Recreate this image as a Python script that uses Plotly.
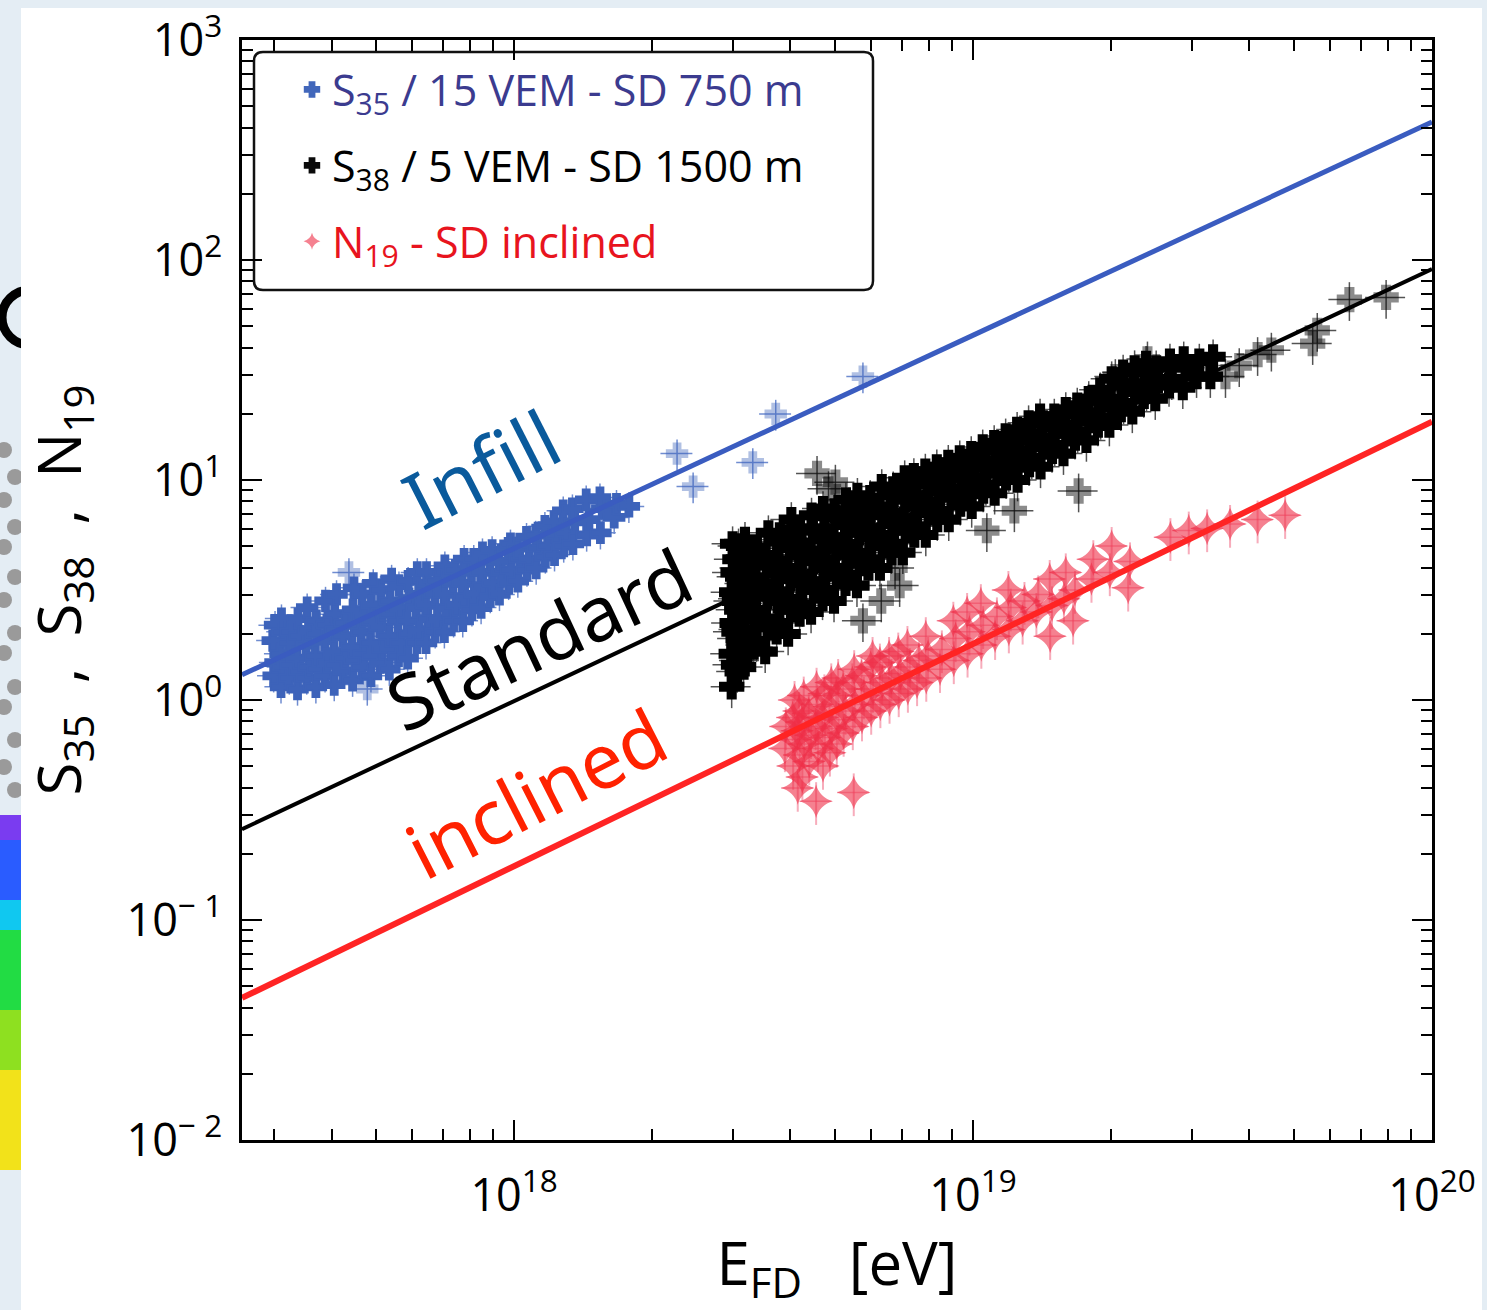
import plotly.graph_objects as go

# ---------------------------------------------------------------------------
# Page geometry (pixels) and helpers to place decorations in paper units
# ---------------------------------------------------------------------------
W, H = 1487, 1310
ML, MR, MT, MB = 242, 55, 40, 170


def px_x(px):
    return (px - ML) / (W - ML - MR)


def px_y(py):
    return (H - MB - py) / (H - MT - MB)


# ---------------------------------------------------------------------------
# Data: lg(E_FD/eV) and lg(S) for the three SD arrays
# ---------------------------------------------------------------------------
# Infill (SD 750 m): S35 / 15 VEM  (last 7 entries are isolated events)
infill_lgE = [
    17.476, 17.480, 17.474, 17.479,
    17.492, 17.497, 17.491, 17.496, 17.493,
    17.510, 17.514, 17.509, 17.513,
    17.528, 17.533, 17.527, 17.532, 17.529,
    17.548, 17.553, 17.547, 17.552, 17.549,
    17.568, 17.572, 17.567, 17.571, 17.569,
    17.588, 17.593, 17.587, 17.592, 17.589,
    17.608, 17.612, 17.607, 17.611, 17.609, 17.613,
    17.628, 17.632, 17.627, 17.631,
    17.648, 17.653, 17.647, 17.652, 17.649, 17.651,
    17.668, 17.673, 17.667, 17.672, 17.669,
    17.688, 17.692, 17.687, 17.691, 17.689, 17.693,
    17.708, 17.713, 17.707, 17.712, 17.709,
    17.728, 17.732, 17.727, 17.731, 17.729, 17.733,
    17.748, 17.753, 17.747, 17.752, 17.749,
    17.768, 17.772, 17.767, 17.771, 17.769,
    17.788, 17.793, 17.787, 17.792, 17.789,
    17.808, 17.812, 17.807, 17.811, 17.809,
    17.828, 17.833, 17.827, 17.832,
    17.848, 17.852, 17.847, 17.851, 17.849,
    17.868, 17.873, 17.867, 17.872,
    17.888, 17.892, 17.887, 17.891,
    17.908, 17.913, 17.907, 17.912,
    17.928, 17.932, 17.927, 17.931,
    17.948, 17.953, 17.947, 17.952,
    17.968, 17.972, 17.967,
    17.988, 17.993, 17.987, 17.992,
    18.008, 18.012, 18.007,
    18.028, 18.033, 18.027,
    18.048, 18.052, 18.047,
    18.068, 18.073, 18.067,
    18.088, 18.092, 18.087,
    18.108, 18.113, 18.107,
    18.128, 18.132, 18.127,
    18.158, 18.163, 18.157,
    18.188, 18.192, 18.187,
    18.218, 18.223,
    18.250,
    17.640, 17.680, 18.355, 18.390, 18.520, 18.570, 18.760,
]
infill_lgS = [
    0.11, 0.17, 0.27, 0.34,
    0.06, 0.15, 0.21, 0.31, 0.37,
    0.10, 0.16, 0.26, 0.31,
    0.05, 0.13, 0.19, 0.29, 0.37,
    0.10, 0.15, 0.25, 0.32, 0.42,
    0.06, 0.14, 0.20, 0.30, 0.36,
    0.11, 0.17, 0.27, 0.34, 0.45,
    0.07, 0.16, 0.22, 0.32, 0.39, 0.48,
    0.13, 0.19, 0.29, 0.35,
    0.09, 0.18, 0.24, 0.34, 0.41, 0.51,
    0.15, 0.21, 0.31, 0.38, 0.48,
    0.11, 0.20, 0.26, 0.36, 0.43, 0.53,
    0.17, 0.23, 0.33, 0.40, 0.50,
    0.14, 0.23, 0.29, 0.39, 0.45, 0.55,
    0.20, 0.26, 0.36, 0.42, 0.52,
    0.19, 0.30, 0.36, 0.46, 0.54,
    0.26, 0.32, 0.42, 0.48, 0.58,
    0.26, 0.37, 0.43, 0.53, 0.58,
    0.31, 0.37, 0.48, 0.54,
    0.31, 0.42, 0.48, 0.58, 0.61,
    0.36, 0.43, 0.53, 0.59,
    0.36, 0.47, 0.53, 0.64,
    0.41, 0.48, 0.58, 0.64,
    0.42, 0.52, 0.58, 0.67,
    0.47, 0.53, 0.63, 0.68,
    0.48, 0.58, 0.63,
    0.53, 0.59, 0.69, 0.71,
    0.54, 0.64, 0.69,
    0.59, 0.64, 0.74,
    0.60, 0.69, 0.75,
    0.65, 0.70, 0.79,
    0.66, 0.75, 0.81,
    0.70, 0.76, 0.86,
    0.71, 0.81, 0.87,
    0.75, 0.82, 0.91,
    0.76, 0.87, 0.92,
    0.83, 0.89,
    0.88,
    0.58, 0.05, 1.12, 0.97, 1.08, 1.30, 1.47,
]
infill_isolated = 7

# Standard array (SD 1500 m): S38 / 5 VEM  (last 20 entries are isolated events)
standard_lgE = [
    18.474, 18.478, 18.473, 18.479, 18.475, 18.480, 18.474, 18.477, 18.481, 18.476,
    18.486, 18.492, 18.488, 18.491, 18.485, 18.490, 18.487, 18.493, 18.489,
    18.500, 18.506, 18.502, 18.505, 18.499, 18.504, 18.501, 18.507, 18.503,
    18.522, 18.528, 18.524, 18.527, 18.521, 18.526, 18.523, 18.529,
    18.547, 18.553, 18.549, 18.552, 18.546, 18.551, 18.548, 18.554,
    18.572, 18.578, 18.574, 18.577, 18.571, 18.576, 18.573, 18.579,
    18.597, 18.603, 18.599, 18.602, 18.596, 18.601, 18.598, 18.604,
    18.622, 18.628, 18.624, 18.627, 18.621, 18.626, 18.623,
    18.647, 18.653, 18.649, 18.652, 18.646, 18.651, 18.648,
    18.672, 18.678, 18.674, 18.677, 18.671, 18.676, 18.673,
    18.697, 18.703, 18.699, 18.702, 18.696, 18.701, 18.698,
    18.722, 18.728, 18.724, 18.727, 18.721, 18.726, 18.723,
    18.747, 18.753, 18.749, 18.752, 18.746, 18.751, 18.748,
    18.772, 18.778, 18.774, 18.777, 18.771, 18.776,
    18.797, 18.803, 18.799, 18.802, 18.796, 18.801,
    18.822, 18.828, 18.824, 18.827, 18.821, 18.826,
    18.847, 18.853, 18.849, 18.852, 18.846, 18.851,
    18.872, 18.878, 18.874, 18.877, 18.871,
    18.897, 18.903, 18.899, 18.902, 18.896,
    18.922, 18.928, 18.924, 18.927, 18.921,
    18.947, 18.953, 18.949, 18.952, 18.946,
    18.972, 18.978, 18.974, 18.977, 18.971,
    18.997, 19.003, 18.999, 19.002, 18.996,
    19.022, 19.028, 19.024, 19.027, 19.021,
    19.047, 19.053, 19.049, 19.052, 19.046,
    19.072, 19.078, 19.074, 19.077, 19.071,
    19.097, 19.103, 19.099, 19.102, 19.096,
    19.122, 19.128, 19.124, 19.127, 19.121,
    19.147, 19.153, 19.149, 19.152, 19.146,
    19.172, 19.178, 19.174, 19.177,
    19.197, 19.203, 19.199, 19.202,
    19.222, 19.228, 19.224, 19.227,
    19.247, 19.253, 19.249, 19.252,
    19.272, 19.278, 19.274, 19.277,
    19.297, 19.303, 19.299, 19.302,
    19.322, 19.328, 19.324, 19.327,
    19.347, 19.353, 19.349, 19.352,
    19.372, 19.378, 19.374, 19.377,
    19.397, 19.403, 19.399,
    19.427, 19.433, 19.429,
    19.457, 19.463, 19.459,
    19.487, 19.493,
    19.517, 19.523,
    18.660, 18.700, 18.685, 18.760, 18.800, 18.840, 18.830, 19.090, 19.030,
    19.230, 19.310, 19.380, 19.550, 19.580, 19.620, 19.650, 19.740, 19.750,
    19.820, 19.900,
]
standard_lgS = [
    0.06, 0.16, 0.21, 0.31, 0.35, 0.45, 0.49, 0.58, 0.64, 0.71,
    0.13, 0.18, 0.28, 0.32, 0.41, 0.46, 0.56, 0.60, 0.70,
    0.15, 0.25, 0.30, 0.40, 0.44, 0.53, 0.58, 0.66, 0.73,
    0.24, 0.27, 0.37, 0.41, 0.50, 0.55, 0.64, 0.69,
    0.22, 0.33, 0.37, 0.47, 0.52, 0.61, 0.66, 0.76,
    0.31, 0.35, 0.45, 0.49, 0.58, 0.63, 0.72, 0.75,
    0.30, 0.41, 0.46, 0.55, 0.60, 0.69, 0.74, 0.82,
    0.39, 0.43, 0.53, 0.57, 0.66, 0.71, 0.78,
    0.40, 0.50, 0.54, 0.63, 0.68, 0.77, 0.84,
    0.46, 0.50, 0.60, 0.64, 0.73, 0.78, 0.87,
    0.45, 0.56, 0.60, 0.69, 0.74, 0.83, 0.86,
    0.53, 0.57, 0.66, 0.71, 0.80, 0.85, 0.91,
    0.52, 0.62, 0.67, 0.76, 0.81, 0.87, 0.93,
    0.60, 0.64, 0.74, 0.78, 0.87, 0.92,
    0.60, 0.70, 0.75, 0.84, 0.88, 0.97,
    0.67, 0.71, 0.80, 0.85, 0.93, 0.96,
    0.67, 0.77, 0.82, 0.91, 0.95, 1.01,
    0.75, 0.79, 0.88, 0.93, 1.02,
    0.75, 0.85, 0.90, 0.98, 1.04,
    0.82, 0.86, 0.95, 0.99, 1.06,
    0.82, 0.92, 0.96, 1.03, 1.08,
    0.89, 0.93, 1.01, 1.04, 1.10,
    0.88, 0.97, 1.01, 1.08, 1.12,
    0.95, 0.98, 1.06, 1.09, 1.15,
    0.94, 1.03, 1.07, 1.14, 1.17,
    1.01, 1.04, 1.12, 1.15, 1.20,
    1.00, 1.09, 1.13, 1.20, 1.23,
    1.07, 1.10, 1.18, 1.21, 1.26,
    1.06, 1.15, 1.19, 1.26, 1.29,
    1.13, 1.16, 1.24, 1.29,
    1.12, 1.21, 1.25, 1.32,
    1.19, 1.22, 1.30, 1.34,
    1.18, 1.27, 1.30, 1.37,
    1.25, 1.28, 1.36, 1.41,
    1.25, 1.33, 1.37, 1.46,
    1.32, 1.35, 1.43, 1.49,
    1.31, 1.40, 1.44, 1.51,
    1.38, 1.41, 1.49, 1.53,
    1.37, 1.45, 1.51,
    1.43, 1.46, 1.54,
    1.42, 1.51, 1.55,
    1.47, 1.54,
    1.47, 1.56,
    1.03, 0.99, 0.96, 0.36, 0.45, 0.52, 0.60, 0.86, 0.77,
    0.95, 1.47, 1.55, 1.47, 1.52, 1.57, 1.59, 1.62, 1.68,
    1.82, 1.83,
]
standard_isolated = 20

# Inclined showers: N19
inclined_lgE = [
    18.590, 18.592,
    18.608, 18.612, 18.607, 18.611,
    18.618, 18.622, 18.617, 18.621,
    18.628, 18.632, 18.627, 18.631,
    18.643, 18.647, 18.642,
    18.658, 18.662, 18.657, 18.661, 18.659,
    18.673, 18.677, 18.672, 18.676,
    18.688, 18.692, 18.687, 18.691,
    18.703, 18.707, 18.702, 18.706,
    18.718, 18.722, 18.717,
    18.740, 18.738, 18.742, 18.737, 18.741,
    18.758, 18.762, 18.757,
    18.778, 18.782, 18.777, 18.781,
    18.798, 18.802, 18.797,
    18.818, 18.822, 18.817,
    18.838, 18.842, 18.837,
    18.858, 18.862, 18.857,
    18.878, 18.882,
    18.898, 18.902, 18.897,
    18.928, 18.932,
    18.958, 18.962, 18.957,
    18.988, 18.992, 18.987,
    19.018, 19.022, 19.017,
    19.048, 19.052,
    19.078, 19.082, 19.077,
    19.108, 19.112,
    19.138, 19.142,
    19.168, 19.172, 19.167,
    19.198, 19.202,
    19.218, 19.222,
    19.258, 19.262,
    19.298, 19.302,
    19.338, 19.342,
    19.430, 19.470, 19.510, 19.560, 19.620, 19.680,
]
inclined_lgS = [
    -0.22, -0.12,
    -0.30, -0.18, -0.08, 0.00,
    -0.40, -0.25, -0.14, -0.05,
    -0.35, -0.20, -0.10, 0.02,
    -0.28, -0.16, -0.06,
    -0.46, -0.22, -0.12, -0.02, 0.06,
    -0.30, -0.17, -0.08, 0.03,
    -0.24, -0.13, -0.03, 0.08,
    -0.20, -0.09, 0.02, 0.10,
    -0.15, -0.05, 0.05,
    -0.42, -0.12, -0.02, 0.08, 0.14,
    -0.08, 0.02, 0.11,
    -0.05, 0.05, 0.15, 0.20,
    -0.02, 0.08, 0.17,
    0.00, 0.10, 0.20,
    0.03, 0.12, 0.22,
    0.05, 0.15, 0.25,
    0.08, 0.18,
    0.10, 0.20, 0.29,
    0.14, 0.23,
    0.18, 0.28, 0.36,
    0.21, 0.31, 0.40,
    0.25, 0.34, 0.44,
    0.29, 0.38,
    0.32, 0.42, 0.50,
    0.36, 0.45,
    0.40, 0.48,
    0.29, 0.43, 0.55,
    0.46, 0.58,
    0.36, 0.50,
    0.55, 0.64,
    0.58, 0.70,
    0.51, 0.63,
    0.74, 0.77, 0.78, 0.80, 0.82, 0.84,
]

# Power-law calibrations: lg S = a + b * (lg E - 18)
infill_fit = (0.689, 0.969)
standard_fit = (-0.005, 0.982)
inclined_fit = (-0.755, 1.010)
fit_lgE = [17.407, 20.0]

# ---------------------------------------------------------------------------
# Figure
# ---------------------------------------------------------------------------
fig = go.Figure()

TXT = "Open Sans, Noto Sans, DejaVu Sans, sans-serif"


def pw(v):
    return [10 ** t for t in v]


def alphas(n_total, n_isolated, faint):
    return [1.0] * (n_total - n_isolated) + [faint] * n_isolated


fig.add_trace(go.Scatter(
    x=pw(infill_lgE), y=pw(infill_lgS), mode="markers",
    name="<span style='color:#3b3b8f'>S<sub>35</sub> / 15 VEM - SD 750 m</span>",
    legendgroup="g1",
    marker=dict(symbol="cross", size=17, color="#3d63ba",
                opacity=alphas(len(infill_lgE), infill_isolated, 0.4),
                line=dict(width=2, color="#3d63ba")),
    error_x=dict(type="percent", value=8, thickness=1.5, width=0, color="#6f8cd0"),
    error_y=dict(type="percent", value=16, thickness=1.5, width=0, color="#6f8cd0"),
))
fig.add_trace(go.Scatter(
    x=pw(standard_lgE), y=pw(standard_lgS), mode="markers",
    name="S<sub>38</sub> / 5 VEM - SD 1500 m",
    legendgroup="g2",
    marker=dict(symbol="cross", size=19, color="#000000",
                opacity=alphas(len(standard_lgE), standard_isolated, 0.45),
                line=dict(width=2.5, color="#000000")),
    error_x=dict(type="percent", value=10, thickness=1.5, width=0,
                 color="rgba(40,40,40,0.8)"),
    error_y=dict(type="percent", value=20, thickness=1.5, width=0,
                 color="rgba(40,40,40,0.8)"),
))
fig.add_trace(go.Scatter(
    x=pw(inclined_lgE), y=pw(inclined_lgS), mode="markers",
    name="<span style='color:#e8141e'>N<sub>19</sub> - SD inclined</span>",
    legendgroup="g3",
    marker=dict(symbol="star-diamond", size=24, color="rgba(238,45,70,0.6)",
                line=dict(width=0)),
    error_x=dict(type="percent", value=8, thickness=1.5, width=0,
                 color="rgba(240,90,120,0.5)"),
    error_y=dict(type="percent", value=22, thickness=2, width=0,
                 color="rgba(240,90,120,0.5)"),
))

for (a, b), col, lw in [(infill_fit, "#3a5cc0", 5),
                        (standard_fit, "#000000", 4),
                        (inclined_fit, "#ff2424", 6)]:
    fig.add_trace(go.Scatter(
        x=pw(fit_lgE), y=[10 ** (a + b * (t - 18.0)) for t in fit_lgE],
        mode="lines", line=dict(color=col, width=lw),
        showlegend=False, hoverinfo="skip",
    ))

# ---------------------------------------------------------------------------
# Decorations: page card, slide edge, legend frame
# ---------------------------------------------------------------------------
shapes = []
# slide edge (grey dots and coloured streaks) on the left margin
dot_y = [450, 477, 500, 527, 547, 577, 600, 633, 653, 687, 707, 740, 767, 790]
for i, yy in enumerate(dot_y):
    cx = 4 if i % 2 == 0 else 15
    shapes.append(dict(type="circle", xref="paper", yref="paper",
                       x0=px_x(cx - 8), x1=px_x(cx + 8),
                       y0=px_y(yy + 8), y1=px_y(yy - 8),
                       fillcolor="#9a9a9a", line=dict(width=0), layer="below"))
streaks = [(815, 840, "#7a3cf0"), (840, 900, "#2a5cff"), (900, 930, "#10c8f0"),
           (930, 1010, "#22dc44"), (1010, 1070, "#8ee020"), (1070, 1170, "#f2e21a")]
for y0, y1, c in streaks:
    shapes.append(dict(type="rect", xref="paper", yref="paper",
                       x0=px_x(0), x1=px_x(22), y0=px_y(y1), y1=px_y(y0),
                       fillcolor=c, line=dict(width=0), layer="below"))
shapes.append(dict(type="circle", xref="paper", yref="paper",
                   x0=px_x(2), x1=px_x(58), y0=px_y(345), y1=px_y(290),
                   line=dict(color="black", width=9), layer="below"))
# white page card
shapes.append(dict(type="rect", xref="paper", yref="paper",
                   x0=px_x(21), x1=px_x(1482), y0=px_y(1312), y1=px_y(8),
                   fillcolor="white", line=dict(width=0), layer="below"))

# rounded legend frame
lx0, lx1, ly0, ly1, r = px_x(254), px_x(873), px_y(290), px_y(52), 9
rx, ry = r / (W - ML - MR), r / (H - MT - MB)
path = (f"M {lx0 + rx} {ly1} L {lx1 - rx} {ly1} Q {lx1} {ly1} {lx1} {ly1 - ry} "
        f"L {lx1} {ly0 + ry} Q {lx1} {ly0} {lx1 - rx} {ly0} "
        f"L {lx0 + rx} {ly0} Q {lx0} {ly0} {lx0} {ly0 + ry} "
        f"L {lx0} {ly1 - ry} Q {lx0} {ly1} {lx0 + rx} {ly1} Z")
shapes.append(dict(type="path", xref="paper", yref="paper", path=path,
                   fillcolor="white", line=dict(color="#111111", width=2.5),
                   layer="below"))

# rotated labels for the three arrays
ANN = "Noto Sans, DejaVu Sans, sans-serif"
annotations = [
    dict(text="Infill", x=px_x(481), y=px_y(468), textangle=-27,
         font=dict(family=ANN, size=78, color="#0a5a9c")),
    dict(text="Standard", x=px_x(538), y=px_y(638), textangle=-25,
         font=dict(family=ANN, size=76, color="#000000")),
    dict(text="inclined", x=px_x(535), y=px_y(792), textangle=-27,
         font=dict(family=ANN, size=76, color="#ff2200")),
]
for a in annotations:
    a.update(xref="paper", yref="paper", showarrow=False,
             xanchor="center", yanchor="middle")

axis_common = dict(
    type="log", showline=True, linecolor="black", linewidth=2.5,
    mirror="ticks", ticks="inside", ticklen=20, tickwidth=2, tickcolor="black",
    showgrid=False, zeroline=False, automargin=False,
    tickfont=dict(family=TXT, size=45, color="black"),
    minor=dict(ticks="inside", ticklen=11, tickwidth=1.6, tickcolor="black",
               dtick="D1", showgrid=False),
)

fig.update_layout(
    width=W, height=H,
    margin=dict(l=ML, r=MR, t=MT, b=MB, pad=0, autoexpand=False),
    paper_bgcolor="#e4edf4", plot_bgcolor="white",
    showlegend=True,
    legend=dict(x=px_x(292), y=px_y(55), xanchor="left", yanchor="top",
                bgcolor="rgba(0,0,0,0)", borderwidth=0,
                font=dict(family=TXT, size=43, color="black"),
                traceorder="grouped", tracegroupgap=17, itemsizing="constant"),
    xaxis=dict(
        axis_common,
        range=[17.407, 20.0],
        tickmode="array",
        tickvals=[1e18, 1e19, 1e20],
        ticktext=["10<sup>18</sup>", "10<sup>19</sup>", "10<sup>20</sup>"],
        ticklabelstandoff=14,
        title=dict(text="E<sub>FD</sub>\u00a0\u00a0\u00a0[eV]",
                   font=dict(family=TXT, size=60, color="black"), standoff=40),
    ),
    yaxis=dict(
        axis_common,
        range=[-2, 3],
        tickmode="array",
        tickvals=[1e-2, 1e-1, 1e0, 1e1, 1e2, 1e3],
        ticktext=["10<sup>\u2212 2</sup>", "10<sup>\u2212 1</sup>", "10<sup>0</sup>",
                  "10<sup>1</sup>", "10<sup>2</sup>", "10<sup>3</sup>"],
        ticklabelstandoff=8,
        title=dict(text="S<sub>35</sub>\u00a0\u00a0,\u00a0\u00a0S<sub>38</sub>"
                        "\u00a0\u00a0,\u00a0\u00a0N<sub>19</sub>",
                   font=dict(family=TXT, size=60, color="black"), standoff=26),
    ),
    shapes=shapes,
    annotations=annotations,
)

fig.write_html("out.html")
